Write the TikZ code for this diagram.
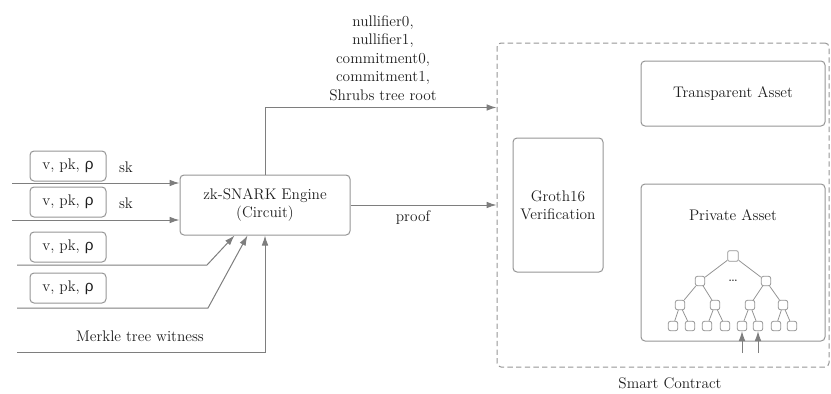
\documentclass[tikz,border=0pt]{standalone}
\usepackage{fontspec}
\newfontfamily\rhofont{Liberation Sans}
\usepackage{tikz}
\usetikzlibrary{arrows.meta,calc}
\definecolor{cLine}{HTML}{7E7E7E}
\definecolor{cBox}{HTML}{959595}
\definecolor{cText}{HTML}{1E1E1E}
\newcommand{\notetxt}{v, pk, {\rhofont ρ}}

\begin{document}
\begin{tikzpicture}[x=0.75pt, y=-0.75pt,
  font=\fontsize{11.5}{13.8}\selectfont, text=cText,
  box/.style={draw=cBox, line width=0.75pt, rounded corners=3pt, align=center, inner sep=0pt},
  notebox/.style={box, minimum width=57pt, minimum height=22.5pt},
  knot/.style={draw=cBox, line width=0.6pt, rounded corners=1.5pt, minimum size=7pt, inner sep=0pt, fill=white},
  link/.style={draw=cBox, line width=0.6pt},
  arr/.style={draw=cLine, line width=0.75pt, -{Latex[length=7.5pt,width=5pt]}}]
\useasboundingbox (0,0) rectangle (831,393);
% ---- the engine and its inputs (x 12 -- 350) ---------------------------------------------------
\node[box, minimum width=127.5pt, minimum height=45pt] (engine) at (265,205) {zk-SNARK Engine\\(Circuit)};
\node[notebox] (note1) at (68,166) {\notetxt};
\node[notebox] (note2) at (68,202) {\notetxt};
\node[notebox] (note3) at (68,247) {\notetxt};
\node[notebox] (note4) at (68,288) {\notetxt};
\node (sk1) at (126,167) {sk};
\node (sk2) at (126,203) {sk};
\node (merkle) at (140,336) {Merkle tree witness};
\coordinate (in1) at (12,183);
\coordinate (in2) at (12,220);
\coordinate (in3) at (17,265);
\coordinate (in4) at (17,308);
\coordinate (in5) at (17,352);
\coordinate (bend3) at (207,265);
\coordinate (bend4) at (208,308);
\draw[arr] (in1) -- (in1 -| engine.west);
\draw[arr] (in2) -- (in2 -| engine.west);
\draw[arr] (in3) -- (bend3) -- ($(engine.south west)+(55,0)$);
\draw[arr] (in4) -- (bend4) -- ($(engine.south west)+(68,0)$);
\draw[arr] (in5) -- (in5 -| engine.south) -- (engine.south);
% ---- the smart contract (x 497 -- 829) -----------------------------------------------------------
\node[box, dash pattern=on 4pt off 2.5pt, minimum width=249pt, minimum height=243pt] (contract) at (663,205) {};
\node (contractlbl) at (670,383) {Smart Contract};
\node[box, minimum width=67.5pt, minimum height=100.5pt] (groth) at (558,205) {Groth16\\Verification};
\node[box, minimum width=138pt, minimum height=48.75pt] (transp) at (733,93.5) {Transparent Asset};
\node[box, minimum width=138pt, minimum height=117.75pt] (priv) at (733,262.5) {};
\node (privlbl) at (733,215) {Private Asset};
% ---- engine to contract: public values and the proof -------------------------------------------
\draw[arr] (engine.north) |- ($(contract.north west)+(0,65)$);
\draw[arr] (engine.east) -- (engine.east -| contract.west);
\node[align=center] (outlbl) at (383,58) {nullifier0,\\nullifier1,\\commitment0,\\commitment1,\\Shrubs tree root};
\node (prooflbl) at (413,218) {proof};
% ---- the Merkle tree of the private asset ------------------------------------------------------
\node[knot, minimum size=8pt] (root) at (733,256) {};
\node[knot] (ka) at (700,281) {};
\node[knot] (kb) at (766,281) {};
\node (dots) at (733,281) {\dots};
\node[knot] (kc1) at (680,305) {};
\node[knot] (kc2) at (715,305) {};
\node[knot] (kc3) at (750,305) {};
\node[knot] (kc4) at (783,305) {};
\node[knot] (leaf1) at (673,326) {};
\node[knot] (leaf2) at (690,326) {};
\node[knot] (leaf3) at (707,326) {};
\node[knot] (leaf4) at (725,326) {};
\node[knot] (leaf5) at (742,326) {};
\node[knot] (leaf6) at (758,326) {};
\node[knot] (leaf7) at (776,326) {};
\node[knot] (leaf8) at (792,326) {};
\draw[link] (root) -- (ka);
\draw[link] (root) -- (kb);
\draw[link] (ka) -- (kc1);
\draw[link] (ka) -- (kc2);
\draw[link] (kb) -- (kc3);
\draw[link] (kb) -- (kc4);
\draw[link] (kc1) -- (leaf1);
\draw[link] (kc1) -- (leaf2);
\draw[link] (kc2) -- (leaf3);
\draw[link] (kc2) -- (leaf4);
\draw[link] (kc3) -- (leaf5);
\draw[link] (kc3) -- (leaf6);
\draw[link] (kc4) -- (leaf7);
\draw[link] (kc4) -- (leaf8);
\coordinate (up5) at (742,353);
\coordinate (up6) at (758,353);
\draw[arr] (up5) -- (leaf5.south);
\draw[arr] (up6) -- (leaf6.south);
\end{tikzpicture}
\end{document}
